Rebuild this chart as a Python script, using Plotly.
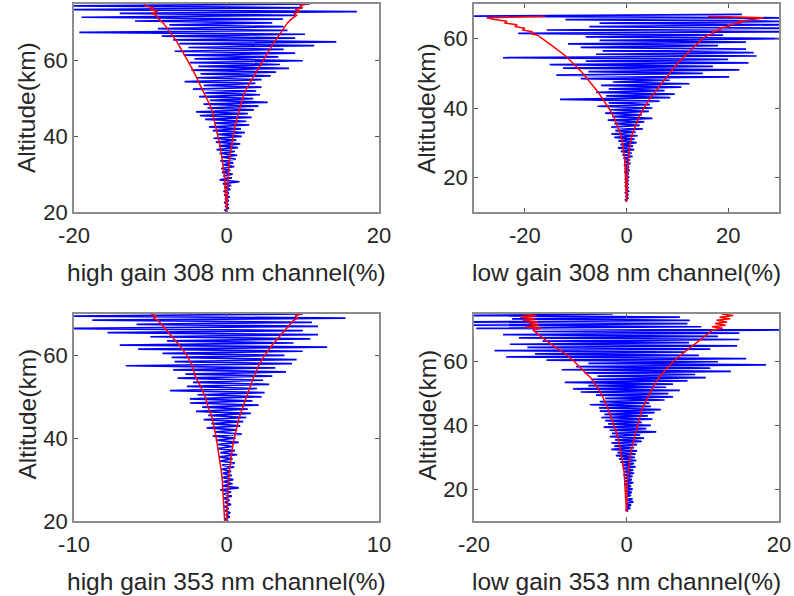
import numpy as np
import plotly.graph_objects as go

# ---------------- data ----------------
# Panel 1: high gain 308 nm channel (%), altitude grid 20..75 km every 0.5 km
ALT_H308 = np.arange(20.0, 75.01, 0.5)
BLUE_H308 = [
    0.1, -0.2, 0.3, -0.1, 0.2, -0.3, 0.3, -0.2, 0.4, -0.3,
    0.3, -0.4, 0.5, -0.3, 0.6, -0.5, 1.7, -0.9, 0.7, -0.4,
    0.8, -0.6, 0.5, -0.7, 1.0, -0.5, 0.9, -0.8, 1.2, -0.6,
    1.4, -0.9, 1.1, -1.3, 1.5, -1.0, 1.8, -1.4, 1.3, -1.7,
    2.0, -1.2, 2.4, -1.8, 1.9, -2.3, 3.0, -1.6, 2.6, -2.8,
    3.3, -3.5, 2.8, -4.0, 3.6, -2.5, 4.2, -3.0, 5.4, -2.2,
    3.5, -3.6, 4.4, -2.8, 3.9, -4.4, 4.6, -3.0, 3.8, -5.5,
    4.6, -4.0, 5.8, -3.4, 6.5, -4.6, 8.2, -3.7, 7.0, -4.8,
    10.0, -4.2, 6.8, -5.6, 9.0, -6.8, 7.5, -5.0, 11.5, -6.2,
    14.4, -7.0, 9.0, -8.5, 10.3, -19.3, 8.0, -9.0, 7.5, -7.5,
    6.0, -12.0, 7.4, -19.0, 9.0, -14.0, 17.1, -21.0, 10.0, -21.0,
    10.9,
]
RED_ALT_H308 = [20, 22.5, 25, 27.5, 30, 32.5, 35, 37.5, 40, 42.5, 45, 47.5, 50, 52.5,
                55, 57.5, 60, 62.5, 65, 67.5, 70, 71, 72, 72.5, 73, 73.5, 74, 74.5, 75]
RED_LO_H308 = [0, -0.05, -0.12, -0.2, -0.3, -0.45, -0.65, -0.85, -1.1, -1.35, -1.7, -2.0,
               -2.6, -3.1, -3.8, -4.4, -5.1, -5.8, -6.5, -7.4, -8.3, -8.9, -9.2, -9.8,
               -9.0, -10.0, -9.5, -10.6, -10.8]
RED_HI_H308 = [0, 0.04, 0.08, 0.12, 0.2, 0.3, 0.45, 0.65, 0.85, 1.1, 1.4, 1.7, 2.1, 2.6,
               3.3, 4.0, 4.7, 5.5, 6.3, 7.1, 8.0, 8.5, 9.2, 8.8, 9.6, 9.0, 10.0, 9.6, 10.5]

# Panel 2: low gain 308 nm channel (%), altitude grid 13..67 km
ALT_L308 = np.arange(13.0, 67.01, 0.5)
BLUE_L308 = [
    0.1, -0.2, 0.3, -0.1, 0.3, -0.2, 0.4, -0.1, 0.3, -0.3,
    0.4, -0.2, 0.3, -0.3, 0.5, -0.2, 0.4, -0.4, 0.6, -0.3,
    0.5, -0.5, 0.8, -0.4, 0.7, -0.6, 1.2, -0.8, 1.0, -1.1,
    1.5, -1.7, 1.3, -1.2, 2.0, -1.6, 1.6, -2.4, 2.2, -3.0,
    1.8, -2.2, 3.2, -3.0, 2.6, -2.4, 3.5, -3.7, 5.1, -2.8,
    3.0, -4.2, 4.4, -3.2, 5.1, -5.7, 4.6, -3.5, 6.5, -13.1,
    8.6, -4.0, 9.5, -6.0, 7.5, -3.5, 10.8, -5.0, 12.4, -2.7,
    8.5, -9.0, 20.2, -13.8, 15.0, -7.5, 22.2, -12.5, 17.0, -15.1,
    24.0, -8.0, 20.0, -24.3, 25.6, -6.0, 25.0, -4.7, 23.5, -9.0,
    18.0, -11.5, 23.5, -5.3, 32.0, -8.0, 19.0, -21.3, 32.0, -15.7,
    32.0, -7.3, 32.0, -5.3, 32.0, -12.0, 32.0, -32.0, 22.7,
]
RED_ALT_L308 = [13, 15, 17.5, 20, 22.5, 25, 27.5, 30, 32.5, 35, 37.5, 40, 42.5, 45, 47.5,
                50, 52.5, 55, 57.5, 60, 61, 61.5, 62, 62.5, 63, 63.5, 64, 64.5, 65, 65.5,
                66, 66.5]
RED_LO_L308 = [0, -0.05, -0.1, -0.15, -0.25, -0.35, -0.55, -0.8, -1.2, -1.8, -2.5, -3.5,
               -4.6, -5.8, -7.2, -8.6, -10.2, -12.0, -14.2, -16.4, -17.5, -18.8, -18.5,
               -20.5, -20.0, -22.0, -21.5, -24.0, -23.5, -26.0, -27.5, -16.0]
RED_HI_L308 = [0, 0.05, 0.1, 0.15, 0.25, 0.35, 0.55, 0.75, 1.15, 1.8, 2.5, 3.4, 4.5, 5.8,
               7.2, 8.5, 9.8, 11.4, 13.2, 15.0, 16.0, 17.2, 16.8, 18.5, 18.2, 20.2, 20.0,
               22.5, 22.0, 25.0, 27.0, 16.0]

# Panel 3: high gain 353 nm channel (%), altitude grid 20..70 km
ALT_H353 = np.arange(20.0, 70.01, 0.5)
BLUE_H353 = [
    0.1, -0.1, 0.2, -0.05, 0.25, -0.1, 0.15, -0.15, 0.3, -0.1,
    0.2, -0.2, 0.35, -0.15, 0.3, -0.4, 0.8, -0.3, 0.4, -0.2,
    0.45, -0.3, 0.35, -0.25, 0.3, -0.35, 0.5, -0.3, 0.55, -0.45,
    0.4, -0.5, 0.7, -0.4, 0.55, -0.6, 0.4, -0.55, 0.8, -0.7,
    0.6, -0.9, 1.0, -0.8, 0.7, -1.3, 0.9, -1.0, 1.1, -1.5,
    1.3, -1.2, 1.6, -2.0, 1.4, -1.6, 2.1, -2.4, 1.7, -2.4,
    2.3, -1.9, 2.5, -3.7, 2.0, -2.6, 2.8, -2.2, 2.4, -3.2,
    3.0, -2.7, 3.9, -3.5, 3.2, -6.6, 4.3, -3.4, 4.6, -3.6,
    3.8, -4.2, 5.0, -5.8, 6.6, -7.0, 4.4, -3.9, 5.5, -5.0,
    6.0, -7.8, 5.0, -10.5, 6.0, -5.9, 5.6, -8.8, 7.8, -10.5,
    5.0,
]
RED_ALT_H353 = [20, 22.5, 25, 27.5, 30, 32.5, 35, 37.5, 40, 42.5, 45, 47.5, 50, 52.5, 55,
                57.5, 60, 62.5, 65, 67.5, 68.5, 69, 69.5, 70]
RED_LO_H353 = [-0.12, -0.15, -0.18, -0.22, -0.28, -0.36, -0.45, -0.55, -0.67, -0.8, -0.95,
               -1.2, -1.4, -1.7, -2.05, -2.25, -2.6, -3.1, -3.7, -4.3, -4.5, -4.8, -4.6,
               -4.95]
RED_HI_H353 = [0.02, 0.04, 0.06, 0.09, 0.13, 0.2, 0.28, 0.38, 0.5, 0.65, 0.83, 1.07, 1.3,
               1.55, 1.8, 2.1, 2.5, 3.0, 3.6, 4.2, 4.4, 4.7, 4.5, 4.85]

# Panel 4: low gain 353 nm channel (%), altitude grid 13..75 km
ALT_L353 = np.arange(13.0, 75.01, 0.5)
BLUE_L353 = [
    0.2, -0.1, 0.5, 0.0, 0.6, -0.1, 0.9, 0.1, 0.8, -0.2,
    0.6, 0.0, 0.7, -0.2, 0.8, -0.1, 0.6, -0.3, 0.9, -0.2,
    0.7, -0.3, 0.8, -0.4, 1.0, -0.3, 0.9, -0.5, 1.2, -0.6,
    1.0, -0.8, 1.3, -1.0, 1.1, -1.4, 1.2, -1.2, 1.4, -2.0,
    1.0, -1.6, 1.4, -2.0, 2.0, -1.5, 2.3, -2.2, 1.8, -1.9,
    3.9, -2.2, 2.6, -3.0, 3.2, -2.4, 2.0, -2.8, 3.4, -3.3,
    2.8, -2.9, 3.7, -3.5, 4.5, -3.6, 3.2, -4.8, 3.0, -3.5,
    5.0, -2.8, 6.1, -4.0, 5.5, -6.0, 7.0, -7.0, 5.2, -5.0,
    6.1, -8.1, 8.0, -4.5, 10.4, -3.8, 9.0, -5.5, 13.7, -8.5,
    11.0, -6.6, 18.3, -5.0, 12.0, -10.5, 15.7, -15.8, 9.5, -12.0,
    7.7, -17.3, 11.0, -13.0, 14.5, -15.3, 8.2, -11.0, 14.8, -14.1,
    12.0, -16.2, 14.8, -12.0, 22.0, -19.7, 9.8, -22.0, 8.0, -22.0,
    8.3, -15.0, 7.0, -22.0, -1.8,
]
RED_ALT_L353 = [13, 15, 17.5, 20, 22.5, 25, 27.5, 30, 32.5, 35, 37.5, 40, 42.5, 45, 47.5,
                50, 52.5, 55, 57.5, 60, 62.5, 65, 67.5, 70, 70.5, 71, 71.5, 72, 72.5, 73,
                73.5, 74, 74.5, 75]
RED_LO_L353 = [0, -0.05, -0.1, -0.15, -0.2, -0.3, -0.45, -0.6, -0.8, -1.0, -1.3, -1.6,
               -2.0, -2.4, -2.9, -3.3, -4.0, -4.7, -5.8, -6.8, -8.0, -9.6, -11.0, -12.3,
               -11.2, -13.2, -11.5, -12.8, -11.6, -13.6, -12.0, -13.9, -11.8, -13.6]
RED_HI_L353 = [0, 0.05, 0.08, 0.1, 0.12, 0.2, 0.32, 0.45, 0.65, 0.9, 1.15, 1.45, 1.75,
               2.0, 2.5, 3.0, 3.6, 4.2, 5.2, 6.1, 7.3, 8.7, 10.0, 11.3, 12.6, 11.2, 13.0,
               11.6, 13.2, 11.8, 13.6, 12.2, 14.0, 12.5]

PANELS = [
    dict(alt=ALT_H308, blue=BLUE_H308, ralt=RED_ALT_H308, rlo=RED_LO_H308, rhi=RED_HI_H308,
         xr=[-20, 20], xt=[-20, 0, 20], yr=[20, 75], title="high gain 308 nm channel(%)"),
    dict(alt=ALT_L308, blue=BLUE_L308, ralt=RED_ALT_L308, rlo=RED_LO_L308, rhi=RED_HI_L308,
         xr=[-30, 30], xt=[-20, 0, 20], yr=[10, 70], title="low gain 308 nm channel(%)"),
    dict(alt=ALT_H353, blue=BLUE_H353, ralt=RED_ALT_H353, rlo=RED_LO_H353, rhi=RED_HI_H353,
         xr=[-10, 10], xt=[-10, 0, 10], yr=[20, 70], title="high gain 353 nm channel(%)"),
    dict(alt=ALT_L353, blue=BLUE_L353, ralt=RED_ALT_L353, rlo=RED_LO_L353, rhi=RED_HI_L353,
         xr=[-20, 20], xt=[-20, 0, 20], yr=[10, 75], title="low gain 353 nm channel(%)"),
]
Y_TICKS = [20, 40, 60]

# ---------------- layout geometry (pixels in a 794x596 page) ----------------
W, H = 794, 596
COLS = [(74, 379), (474, 779)]
ROWS = [(4, 212), (314, 521)]
FONT = "Liberation Sans, Arial, sans-serif"
TXT = "#262626"

fig = go.Figure()
layout = dict(width=W, height=H,
              margin=dict(l=0, r=0, t=0, b=0, pad=0, autoexpand=False),
              paper_bgcolor="white", plot_bgcolor="white", showlegend=False,
              annotations=[])

for i, p in enumerate(PANELS):
    r, c = divmod(i, 2)
    n = i + 1
    xa = "x" if n == 1 else f"x{n}"
    ya = "y" if n == 1 else f"y{n}"
    fig.add_trace(go.Scatter(x=p["blue"], y=p["alt"], mode="lines",
                             line=dict(color="rgb(0,0,255)", width=1.7),
                             xaxis=xa, yaxis=ya, hoverinfo="skip"))
    for side in ("rlo", "rhi"):
        fig.add_trace(go.Scatter(x=p[side], y=p["ralt"], mode="lines",
                                 line=dict(color="rgb(255,0,0)", width=1.5),
                                 xaxis=xa, yaxis=ya, hoverinfo="skip"))
    x0, x1 = COLS[c]
    y0, y1 = ROWS[r]
    common = dict(showline=True, linecolor="#8c8c8c", linewidth=1.5, mirror="ticks",
                  ticks="inside", ticklen=4, tickwidth=1, tickcolor="#555555",
                  showgrid=False, zeroline=False, automargin=False,
                  tickfont=dict(family=FONT, size=22, color=TXT))
    layout["xaxis" if n == 1 else f"xaxis{n}"] = dict(
        common, domain=[x0 / W, x1 / W], range=p["xr"], tickvals=p["xt"],
        ticktext=[str(v) for v in p["xt"]],
        anchor=ya, ticklabelstandoff=3)
    layout["yaxis" if n == 1 else f"yaxis{n}"] = dict(
        common, domain=[1 - y1 / H, 1 - y0 / H], range=p["yr"], tickvals=Y_TICKS,
        ticktext=[str(v) for v in Y_TICKS],
        anchor=xa, ticklabelstandoff=0)
    # axis titles
    layout["annotations"].append(dict(
        text=p["title"], xref="paper", yref="paper", x=(x0 + x1) / 2 / W,
        y=1 - (y1 + 60) / H, showarrow=False, xanchor="center", yanchor="middle",
        font=dict(family=FONT, size=24.5, color=TXT)))
    layout["annotations"].append(dict(
        text="Altitude(km)", xref="paper", yref="paper", x=(x0 - 47) / W,
        y=1 - ((y0 + y1) / 2 - 3 * r) / H, showarrow=False, textangle=-90,
        xanchor="center", yanchor="middle",
        font=dict(family=FONT, size=24.5, color=TXT)))

fig.update_layout(**layout)
fig.write_html("out.html")
